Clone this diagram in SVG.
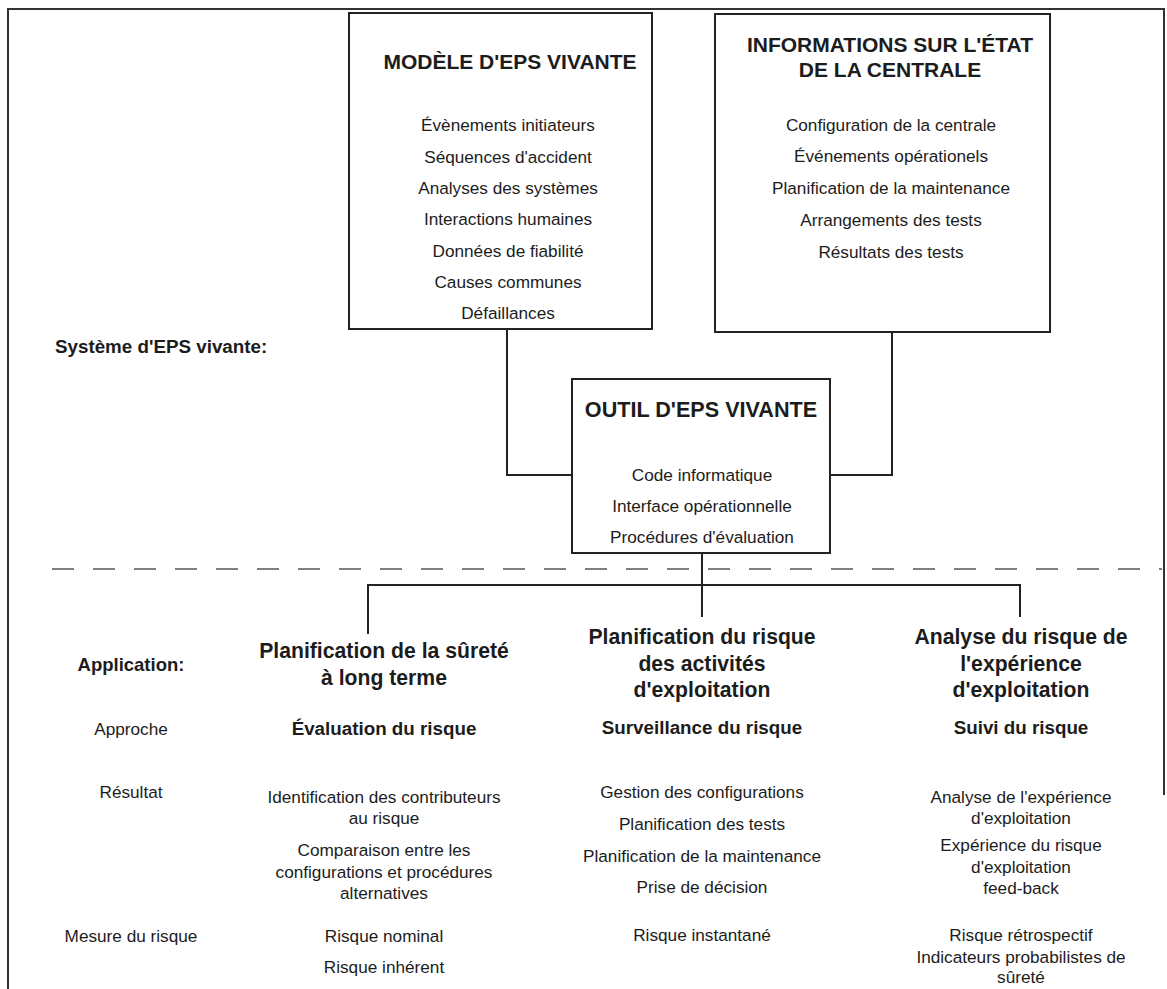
<svg xmlns="http://www.w3.org/2000/svg" width="1167" height="989" viewBox="0 0 1167 989">
  <style>
    text { font-family: "Liberation Sans", Arial, sans-serif; fill: #1c1c1c; text-anchor: middle; }
    .title { font-size: 21px; font-weight: bold; }
    .item { font-size: 17.2px; }
    .label { font-size: 18.8px; font-weight: bold; }
    .head { font-size: 21.2px; font-weight: bold; }
    .approach { font-size: 18.8px; font-weight: bold; }
    .box { fill: #ffffff; stroke: #222; stroke-width: 2; }
    .wire { fill: none; stroke: #222; stroke-width: 2; }
    .frame { fill: none; stroke: #333; stroke-width: 2; }
    .divider { fill: none; stroke: #555; stroke-width: 1.6; stroke-dasharray: 22 19; }
  </style>

  <!-- outer frame: top, left and partial right edge -->
  <path class="frame" d="M8,989 V9 H1164 V795"/>

  <!-- links between the blocks -->
  <g id="connectors">
    <path class="wire" d="M507,329 V475 H572"/>
    <path class="wire" d="M892,332 V475 H830"/>
    <path class="wire" d="M702,553 V617"/>
    <path class="wire" d="M368,634 V585 H1020 V617"/>
  </g>

  <!-- boundary between the system and its applications -->
  <line class="divider" x1="52" y1="569" x2="1162" y2="569"/>

  <g id="modele">
    <rect class="box" x="349" y="13" width="303" height="316"/>
    <text class="title" x="510" y="69">MODÈLE D'EPS VIVANTE</text>
    <text class="item" x="508" y="131">Évènements initiateurs</text>
    <text class="item" x="508" y="163">Séquences d'accident</text>
    <text class="item" x="508" y="194">Analyses des systèmes</text>
    <text class="item" x="508" y="225">Interactions humaines</text>
    <text class="item" x="508" y="257">Données de fiabilité</text>
    <text class="item" x="508" y="288">Causes communes</text>
    <text class="item" x="508" y="319">Défaillances</text>
  </g>

  <g id="informations">
    <rect class="box" x="715" y="14" width="335" height="318"/>
    <text class="title" x="890" y="52">INFORMATIONS SUR L'ÉTAT</text>
    <text class="title" x="890" y="77">DE LA CENTRALE</text>
    <text class="item" x="891" y="131">Configuration de la centrale</text>
    <text class="item" x="891" y="162">Événements opérationels</text>
    <text class="item" x="891" y="194">Planification de la maintenance</text>
    <text class="item" x="891" y="226">Arrangements des tests</text>
    <text class="item" x="891" y="258">Résultats des tests</text>
  </g>

  <g id="systeme-label">
    <text class="label" x="55" y="353" style="text-anchor:start">Système d'EPS vivante:</text>
  </g>

  <g id="outil">
    <rect class="box" x="572" y="379" width="258" height="174"/>
    <text class="title" x="701" y="417" style="font-size:21.6px">OUTIL D'EPS VIVANTE</text>
    <text class="item" x="702" y="481">Code informatique</text>
    <text class="item" x="702" y="512">Interface opérationnelle</text>
    <text class="item" x="702" y="543">Procédures d'évaluation</text>
  </g>

  <g id="row-labels">
    <text class="label" x="131" y="671" style="font-size:18.5px">Application:</text>
    <text class="item" x="131" y="735">Approche</text>
    <text class="item" x="131" y="798">Résultat</text>
    <text class="item" x="131" y="942">Mesure du risque</text>
  </g>

  <g id="surete-long-terme">
    <text class="head" x="384" y="658">Planification de la sûreté</text>
    <text class="head" x="384" y="685">à long terme</text>
    <text class="approach" x="384" y="735">Évaluation du risque</text>
    <text class="item" x="384" y="803">Identification des contributeurs</text>
    <text class="item" x="384" y="824">au risque</text>
    <text class="item" x="384" y="856">Comparaison entre les</text>
    <text class="item" x="384" y="878">configurations et procédures</text>
    <text class="item" x="384" y="899">alternatives</text>
    <text class="item" x="384" y="942">Risque nominal</text>
    <text class="item" x="384" y="973">Risque inhérent</text>
  </g>

  <g id="activites-exploitation">
    <text class="head" x="702" y="644">Planification du risque</text>
    <text class="head" x="702" y="671">des activités</text>
    <text class="head" x="702" y="697">d'exploitation</text>
    <text class="approach" x="702" y="734">Surveillance du risque</text>
    <text class="item" x="702" y="798">Gestion des configurations</text>
    <text class="item" x="702" y="830">Planification des tests</text>
    <text class="item" x="702" y="862">Planification de la maintenance</text>
    <text class="item" x="702" y="893">Prise de décision</text>
    <text class="item" x="702" y="941">Risque instantané</text>
  </g>

  <g id="experience-exploitation">
    <text class="head" x="1021" y="644">Analyse du risque de</text>
    <text class="head" x="1021" y="671">l'expérience</text>
    <text class="head" x="1021" y="697">d'exploitation</text>
    <text class="approach" x="1021" y="734">Suivi du risque</text>
    <text class="item" x="1021" y="803">Analyse de l'expérience</text>
    <text class="item" x="1021" y="824">d'exploitation</text>
    <text class="item" x="1021" y="851">Expérience du risque</text>
    <text class="item" x="1021" y="873">d'exploitation</text>
    <text class="item" x="1021" y="894">feed-back</text>
    <text class="item" x="1021" y="941">Risque rétrospectif</text>
    <text class="item" x="1021" y="963">Indicateurs probabilistes de</text>
    <text class="item" x="1021" y="983">sûreté</text>
  </g>
</svg>
